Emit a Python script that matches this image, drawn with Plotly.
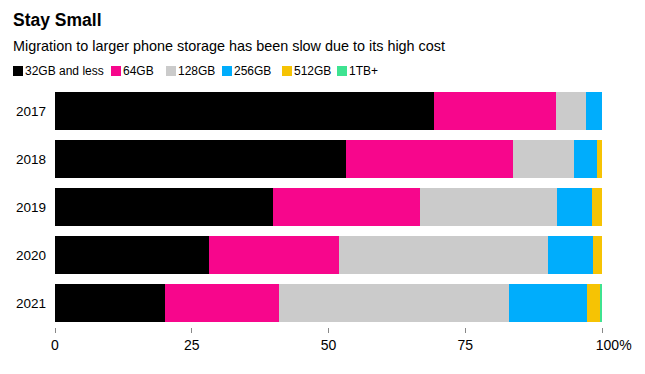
import plotly.graph_objects as go

years = ["2017", "2018", "2019", "2020", "2021"]
series = ["32GB and less", "64GB", "128GB", "256GB", "512GB", "1TB+"]
colors = ["#000000", "#f7068c", "#cbcbcb", "#00adfc", "#f6c304", "#3ee391"]
v32 = [69.3, 53.2, 39.9, 28.2, 20.1]
v64 = [22.3, 30.6, 26.8, 23.7, 20.8]
v128 = [5.4, 11.0, 25.1, 38.2, 42.1]
v256 = [3.0, 4.3, 6.4, 8.3, 14.3]
v512 = [0.0, 0.9, 1.8, 1.6, 2.3]
v1tb = [0.0, 0.0, 0.0, 0.0, 0.4]
values = [v32, v64, v128, v256, v512, v1tb]
xticks = [0, 25, 50, 75, 100]
xticktext = ["0", "25", "50", "75", "\u2007\u2007\u2007100%"]

FONT = "Liberation Sans, Arial, Helvetica, sans-serif"

fig = go.Figure()
for name, color, vals in zip(series, colors, values):
    fig.add_bar(y=years, x=vals, orientation="h", name=name,
                marker=dict(color=color, line=dict(width=0)), showlegend=False,
                hoverinfo="skip")

W, H = 645, 374
mt, mb, ml, mr = 87, 47, 55, 43
ph = H - mt - mb
pw = W - ml - mr

def py(px):
    return (H - mb - px) / ph

def pxx(px):
    return (px - ml) / pw

annotations = [
    dict(text="<b>Stay Small</b>", xref="paper", yref="paper",
         x=pxx(11), y=py(20), xanchor="left", yanchor="middle",
         showarrow=False, font=dict(family=FONT, size=17.5, color="#000")),
    dict(text="Migration to larger phone storage has been slow due to its high cost",
         xref="paper", yref="paper",
         x=pxx(11), y=py(46), xanchor="left", yanchor="middle",
         showarrow=False, font=dict(family=FONT, size=14.4, color="#000")),
]
shapes = []
legend_left = [13, 111, 166, 222, 282, 337]  # pixel x of each legend swatch
for name, color, lx in zip(series, colors, legend_left):
    shapes.append(dict(type="rect", xref="paper", yref="paper",
                       x0=pxx(lx), x1=pxx(lx + 10), y0=py(76), y1=py(66),
                       fillcolor=color, line=dict(width=0)))
    annotations.append(dict(text=name, xref="paper", yref="paper",
                            x=pxx(lx + 10), y=py(71), xanchor="left", yanchor="middle",
                            showarrow=False,
                            font=dict(family=FONT, size=12, color="#000")))

fig.update_layout(
    width=W, height=H,
    margin=dict(l=ml, r=mr, t=mt, b=mb),
    barmode="stack", bargap=0.2,
    plot_bgcolor="white", paper_bgcolor="white",
    font=dict(family=FONT, color="#000", size=13),
    xaxis=dict(range=[0, 100], tickvals=xticks, ticktext=xticktext,
               ticks="outside", ticklen=5, tickwidth=1, tickcolor="#888",
               showgrid=False, zeroline=False, showline=False,
               tickfont=dict(size=14, family=FONT)),
    yaxis=dict(autorange="reversed", ticks="", showgrid=False, zeroline=False,
               showline=False, ticklabelstandoff=8,
               tickfont=dict(size=13.5, family=FONT)),
    annotations=annotations,
    shapes=shapes,
)

fig.write_html("out.html", config={"displayModeBar": False},
               post_script="document.body.style.margin='0';")
